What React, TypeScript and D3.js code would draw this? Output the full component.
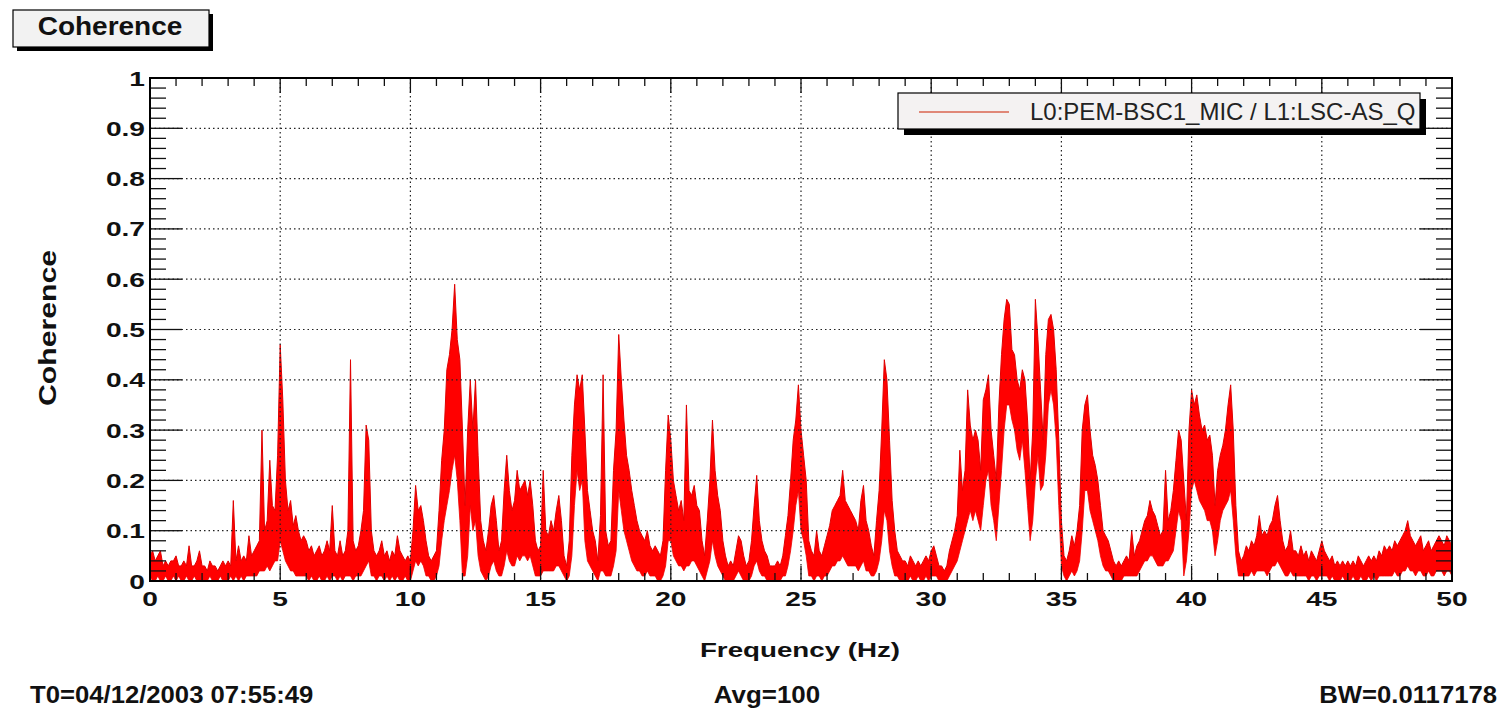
import React from "react";
import * as d3 from "d3";

// ---------- data (coherence envelope, in hundredths, 0.1 Hz bins from 0 to 50 Hz) ----------
const freqStepHz = 0.1;

const upperPct = [
  5,6,4,5,6,3,4,3,4,4,
  5,3,3,4,3,7,3,3,4,6,
  3,3,2,4,3,3,2,3,4,3,
  4,3,16,4,7,4,5,4,9,5,
  6,7,8,30,10,12,24,15,14,25,
  47,36,20,14,16,11,13,10,8,9,
  8,6,7,5,6,7,5,6,8,6,
  15,6,5,8,5,6,10,44,8,6,
  7,10,14,31,28,10,6,5,6,8,
  5,6,4,6,5,9,6,5,4,5,
  4,10,19,14,15,12,8,5,4,5,
  6,14,24,30,42,45,50,59,48,44,
  30,15,30,40,30,40,25,12,8,6,
  10,15,17,12,6,8,18,25,18,14,
  16,22,18,19,20,17,20,15,8,6,
  7,22,10,9,12,10,14,17,12,5,
  3,8,25,35,41,38,41,30,18,14,
  10,8,4,13,41,10,7,8,22,30,
  49,40,32,25,22,18,15,12,10,9,
  8,10,7,6,7,6,5,8,22,33,
  28,20,17,14,16,12,35,18,17,19,
  15,14,8,5,12,20,32,22,17,14,
  8,5,3,4,3,6,9,8,5,3,
  4,8,15,21,12,8,6,5,3,3,
  3,4,3,5,9,13,20,28,32,39,
  30,25,20,8,6,5,10,6,5,7,
  9,11,14,15,16,17,22,16,15,14,
  13,12,10,16,19,12,10,7,5,12,
  18,30,44,40,28,16,10,6,5,4,
  4,3,5,4,3,4,3,4,5,4,
  6,7,5,3,3,2,3,6,8,10,
  13,26,18,22,38,31,28,30,28,22,
  36,38,41,30,25,20,35,45,52,56,
  55,46,45,40,38,42,40,32,20,30,
  56,48,38,28,45,52,53,50,42,28,
  12,5,4,6,9,7,10,15,30,35,
  37,30,25,23,20,15,10,9,8,6,
  4,3,4,3,4,5,4,10,5,7,
  8,10,12,13,16,14,13,11,9,10,
  22,12,14,18,24,30,28,20,12,30,
  38,35,37,33,30,31,28,29,25,15,
  22,25,27,30,35,39,30,15,6,4,
  5,7,6,8,7,9,13,9,10,9,
  11,12,15,17,12,8,6,7,10,6,
  6,5,7,5,6,4,6,5,4,6,
  8,6,5,4,5,3,4,3,4,3,
  4,3,4,3,5,4,3,4,5,4,
  5,4,6,5,7,6,7,6,8,7,
  8,9,10,12,9,8,7,8,9,6,
  7,8,6,7,8,9,8,7,9,8,
  7,
];

const lowerPct = [
  1,0,0,1,0,0,1,0,0,1,
  0,1,0,0,1,0,0,1,0,0,
  0,0,0,1,0,0,0,1,0,0,
  0,1,0,1,0,1,0,1,1,1,
  1,1,2,2,2,3,2,3,4,4,
  8,6,4,3,2,2,1,1,1,1,
  1,0,1,0,0,1,0,0,1,0,
  1,1,0,1,0,1,1,1,0,1,
  1,1,2,3,4,1,1,0,1,1,
  0,1,0,1,0,1,0,0,1,0,
  0,2,4,3,4,3,1,1,0,0,
  1,3,8,12,15,18,22,25,20,12,
  1,1,5,15,10,12,5,2,1,0,
  1,3,4,2,1,1,3,6,4,3,
  3,5,4,5,5,4,5,3,1,1,
  1,2,2,2,2,2,3,3,2,1,
  0,1,5,15,22,18,20,8,4,3,
  2,1,0,2,2,1,1,1,3,6,
  18,14,10,8,6,4,3,2,2,1,
  1,2,1,1,1,0,0,1,3,8,
  8,5,4,3,3,2,3,3,4,4,
  3,2,1,0,2,4,8,5,3,2,
  1,0,0,0,0,1,2,1,0,0,
  0,1,3,4,2,1,1,0,0,0,
  0,0,0,1,1,3,6,10,15,18,
  10,8,5,1,1,0,1,1,0,1,
  1,2,3,3,4,4,5,4,3,3,
  3,3,2,3,4,2,2,1,1,2,
  4,8,14,12,6,3,1,1,0,0,
  0,0,1,0,0,1,0,0,1,0,
  1,1,1,0,0,0,0,1,2,3,
  4,6,8,10,12,14,12,14,12,10,
  15,20,22,15,12,8,15,22,30,35,
  35,32,30,26,24,28,22,15,8,12,
  20,25,18,19,25,35,38,35,28,15,
  3,1,0,1,2,1,2,4,10,18,
  18,14,12,10,8,5,3,2,2,1,
  0,0,0,0,1,1,1,1,1,1,
  2,3,4,4,5,5,4,3,3,3,
  4,4,5,6,10,14,12,1,4,10,
  18,20,18,16,15,14,12,12,10,5,
  8,12,14,15,16,18,12,5,1,1,
  1,1,1,2,1,2,2,2,2,1,
  2,3,3,4,3,2,1,1,2,1,
  1,1,1,1,1,0,1,1,0,1,
  1,1,1,0,1,0,0,0,1,0,
  0,0,1,0,0,1,0,0,1,0,
  1,0,1,1,1,1,1,1,2,1,
  1,2,2,3,2,2,1,2,2,1,
  1,2,1,1,2,2,2,1,2,2,
  1,
];

const xMajorTicks = [0, 5, 10, 15, 20, 25, 30, 35, 40, 45, 50];
const xTickLabels = ["0", "5", "10", "15", "20", "25", "30", "35", "40", "45", "50"];
const yMajorTicks = [0, 0.1, 0.2, 0.3, 0.4, 0.5, 0.6, 0.7, 0.8, 0.9, 1];
const yTickLabels = ["0", "0.1", "0.2", "0.3", "0.4", "0.5", "0.6", "0.7", "0.8", "0.9", "1"];

const titleText = "Coherence";
const xAxisTitle = "Frequency (Hz)";
const yAxisTitle = "Coherence";
const legendLabel = "L0:PEM-BSC1_MIC / L1:LSC-AS_Q";
const footerLeft = "T0=04/12/2003 07:55:49";
const footerCenter = "Avg=100";
const footerRight = "BW=0.0117178";

// ---------- layout ----------
const W = 1502;
const H = 709;
const frame = { left: 150, right: 1452, top: 78, bottom: 581 };
const FONT = "'Liberation Sans', Arial, Helvetica, sans-serif";

type TxtProps = {
  x: number; y: number; sx?: number; anchor?: "start" | "middle" | "end";
  size: number; weight?: string | number; fill?: string; rotate?: number; children: React.ReactNode;
};
function Txt({ x, y, sx = 1, anchor = "start", size, weight = "bold", fill = "#111", rotate, children }: TxtProps) {
  const tr = `translate(${x},${y})${rotate ? ` rotate(${rotate})` : ""} scale(${sx},1)`;
  return (
    <text transform={tr} textAnchor={anchor} fontFamily={FONT} fontSize={size} fontWeight={weight} fill={fill}>
      {children}
    </text>
  );
}

export default function App() {
  const x = d3.scaleLinear().domain([0, 50]).range([frame.left, frame.right]);
  const y = d3.scaleLinear().domain([0, 1]).range([frame.bottom, frame.top]);

  const points = upperPct.map((u, i) => ({
    f: i * freqStepHz,
    hi: u / 100,
    lo: Math.min(lowerPct[i], u) / 100,
  }));

  const area = d3.area<any>().x((d) => x(d.f)).y0((d) => y(d.lo)).y1((d) => y(d.hi));
  const hiLine = d3.line<any>().x((d) => x(d.f)).y((d) => y(d.hi));
  const loLine = d3.line<any>().x((d) => x(d.f)).y((d) => y(d.lo));

  const xMinor = d3.range(0, 51, 1).filter((v) => v % 5 !== 0);
  const yMinor = d3.range(0, 101, 2).map((v) => v / 100).filter((v) => Math.round(v * 100) % 10 !== 0);

  const yMajLen = 32, yMinLen = 16, xMajLen = 15, xMinLen = 8;

  return (
    <div style={{ position: "absolute", left: 0, top: 0 }}>
      <svg width={W} height={H} style={{ display: "block", background: "#fff" }}>
        <rect x={0} y={0} width={W} height={H} fill="#fff" />
        <defs>
          <clipPath id="plotclip">
            <rect x={frame.left} y={frame.top} width={frame.right - frame.left} height={frame.bottom - frame.top} />
          </clipPath>
        </defs>

        {/* trace */}
        <g clipPath="url(#plotclip)">
          <path d={area(points) || ""} fill="#ff0000" stroke="none" />
          <path d={hiLine(points) || ""} fill="none" stroke="#e00000" strokeWidth={1} />
          <path d={loLine(points) || ""} fill="none" stroke="#ee0000" strokeWidth={0.8} />
        </g>

        {/* grid */}
        <g stroke="#222" strokeWidth={1.2} strokeDasharray="1.5,3">
          {xMajorTicks.filter((v) => v > 0 && v < 50).map((v) => (
            <line key={"gx" + v} x1={x(v)} x2={x(v)} y1={frame.top} y2={frame.bottom} />
          ))}
          {yMajorTicks.filter((v) => v > 0 && v < 1).map((v) => (
            <line key={"gy" + v} x1={frame.left} x2={frame.right} y1={y(v)} y2={y(v)} />
          ))}
        </g>

        {/* ticks */}
        <g stroke="#111" strokeWidth={1.3}>
          {yMajorTicks.map((v) => (
            <g key={"ty" + v}>
              <line x1={frame.left} x2={frame.left + yMajLen} y1={y(v)} y2={y(v)} />
              <line x1={frame.right} x2={frame.right - yMajLen} y1={y(v)} y2={y(v)} />
            </g>
          ))}
          {yMinor.map((v) => (
            <g key={"tym" + v}>
              <line x1={frame.left} x2={frame.left + yMinLen} y1={y(v)} y2={y(v)} />
              <line x1={frame.right} x2={frame.right - yMinLen} y1={y(v)} y2={y(v)} />
            </g>
          ))}
          {xMajorTicks.map((v) => (
            <g key={"tx" + v}>
              <line x1={x(v)} x2={x(v)} y1={frame.bottom} y2={frame.bottom - xMajLen} />
              <line x1={x(v)} x2={x(v)} y1={frame.top} y2={frame.top + xMajLen} />
            </g>
          ))}
          {xMinor.map((v) => (
            <g key={"txm" + v}>
              <line x1={x(v)} x2={x(v)} y1={frame.bottom} y2={frame.bottom - xMinLen} />
              <line x1={x(v)} x2={x(v)} y1={frame.top} y2={frame.top + xMinLen} />
            </g>
          ))}
        </g>

        {/* frame */}
        <rect x={frame.left} y={frame.top} width={frame.right - frame.left} height={frame.bottom - frame.top}
          fill="none" stroke="#000" strokeWidth={2} />

        {/* tick labels */}
        {yMajorTicks.map((v, i) => (
          <Txt key={"ly" + v} x={145} y={y(v) + 7.5} sx={1.34} anchor="end" size={21}>{yTickLabels[i]}</Txt>
        ))}
        {xMajorTicks.map((v, i) => (
          <Txt key={"lx" + v} x={x(v)} y={606} sx={1.34} anchor="middle" size={21}>{xTickLabels[i]}</Txt>
        ))}

        {/* axis titles */}
        <Txt x={800} y={657} sx={1.32} anchor="middle" size={21}>{xAxisTitle}</Txt>
        <Txt x={56} y={328} sx={1.26} anchor="middle" size={24} rotate={-90}>{yAxisTitle}</Txt>

        {/* legend */}
        <rect x={904} y={99} width={522} height={36} fill="#000" />
        <rect x={898} y={93} width={522} height={36} fill="#f4f2f2" stroke="#000" strokeWidth={1.2} />
        <line x1={919} x2={1009} y1={112} y2={112} stroke="#e08878" strokeWidth={2} />
        <Txt x={1030} y={120} size={24} weight="normal" fill="#222">{legendLabel}</Txt>

        {/* title box */}
        <rect x={17} y={14} width={196} height={37} fill="#000" />
        <rect x={13} y={10} width={196} height={37} fill="#f2f2f2" stroke="#000" strokeWidth={1.2} />
        <Txt x={110} y={35} sx={1.12} anchor="middle" size={25}>{titleText}</Txt>

        {/* footer */}
        <Txt x={30} y={703} sx={1.07} size={24}>{footerLeft}</Txt>
        <Txt x={767} y={703} sx={1.08} anchor="middle" size={24}>{footerCenter}</Txt>
        <Txt x={1497} y={703} sx={1.07} anchor="end" size={24}>{footerRight}</Txt>
      </svg>
    </div>
  );
}
